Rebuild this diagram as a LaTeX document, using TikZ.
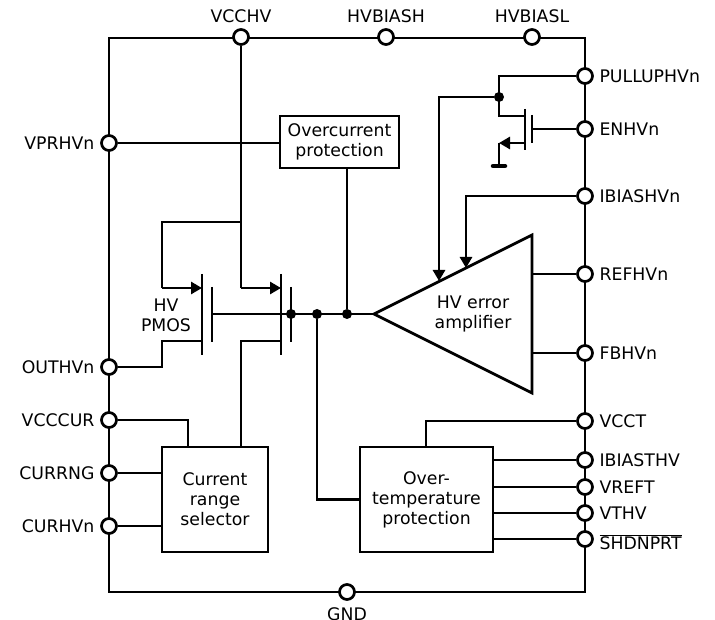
\documentclass[tikz,border=0pt]{standalone}
\usepackage{fontspec}
\setmainfont{DejaVu Sans}
\usetikzlibrary{arrows.meta}
\tikzset{
  wire/.style={line width=2.7pt},
  tipwire/.style={wire, -{Triangle[length=11pt,width=12pt]}},
  pin/.style={draw, circle, fill=white, line width=2.7pt, minimum size=15pt, inner sep=0pt},
  pinlabel/.style={font=\fontsize{17.3}{20}\selectfont, inner sep=0pt, text height=12.6pt, text depth=0pt, label distance=5.5pt},
  block/.style={draw, fill=white, line width=2.7pt, align=center, inner sep=0pt, font=\fontsize{17.3}{20}\selectfont},
  plain/.style={align=center, inner sep=0pt, font=\fontsize{17.3}{20}\selectfont},
  junction/.style={circle, fill=black, minimum size=10pt, inner sep=0pt}
}
\begin{document}
\begin{tikzpicture}[x=1pt,y=-1pt]
  \useasboundingbox (0,0) rectangle (715,620);
  \draw[wire] (109,38) rectangle (585,592);
  % pins
  \foreach \pinname/\xpos in {VCCHV/241,HVBIASH/386,HVBIASL/532}
    \node[pin, label={[pinlabel]above:\pinname}] (\pinname) at (\xpos,37) {};
  \foreach \pinname/\ypos in {VPRHVn/143,OUTHVn/367,VCCCUR/420,CURRNG/473,CURHVn/526}
    \node[pin, label={[pinlabel]left:\pinname}] (\pinname) at (109,\ypos) {};
  \foreach \pinname/\ypos in {PULLUPHVn/76,ENHVn/129,IBIASHVn/196,REFHVn/274,FBHVn/353,VCCT/421,IBIASTHV/460,VREFT/487,VTHV/513}
    \node[pin, label={[pinlabel]right:\pinname}] (\pinname) at (585,\ypos) {};
  \node[pin, label={[pinlabel, yshift=-4pt]right:$\overline{\mbox{SHDNPRT}}$}] (SHDNPRT) at (585,539) {};
  \node[pin, label={[pinlabel, yshift=-1pt]below:GND}] (GND) at (347,592) {};
  % blocks
  \node[block, minimum width=119pt, minimum height=52pt] (overcurrent) at (339.5,142) {Overcurrent\\protection};
  \node[block, minimum width=106pt, minimum height=105pt] (currange) at (215,499.5) {Current\\range\\selector};
  \node[block, minimum width=133pt, minimum height=105pt] (overtemp) at (426.5,499.5) {Over-\\temperature\\protection};
  \coordinate (amptip) at (374,314);
  \coordinate (amptop) at (532,235);
  \coordinate (ampbot) at (532,393);
  \draw[wire, line join=miter] (amptip) -- (amptop) -- (ampbot) -- cycle;
  \node[plain] (amplabel) at (473,314) {HV error\\amplifier};
  \node[plain] (pmoslabel) at (166,315) {HV\\PMOS};
  % pmos pair
  \coordinate (vcctap) at (241,222);
  \coordinate (srca) at (202,288);
  \coordinate (srcb) at (281,288);
  \coordinate (draina) at (202,341);
  \coordinate (drainb) at (281,341);
  \coordinate (gatea) at (212,314);
  \draw[wire] (202,274) -- (202,355);
  \draw[wire] (212,287) -- (212,342);
  \draw[wire] (281,274) -- (281,355);
  \draw[wire] (291,287) -- (291,342);
  \draw[wire] (VCCHV) -- (241,288);
  \draw[tipwire] (241,288) -- (srcb);
  \draw[wire] (vcctap) -| (162,288);
  \draw[tipwire] (162,288) -- (srca);
  \draw[wire] (draina) -- (162,341) |- (OUTHVn);
  \draw[wire] (drainb) -- (241,341) -- (241,447);
  \draw[wire] (gatea) -- (amptip);
  \draw[wire] (VPRHVn) -- (overcurrent.west |- VPRHVn);
  \node[junction] (gatedot) at (291,314) {};
  \node[junction] (tempdot) at (317,314) {};
  \node[junction] (ocpdot) at (347,314) {};
  \draw[wire] (347,168) -- (ocpdot);
  \draw[wire] (tempdot) |- (overtemp.west);
  % current selector
  \draw[wire] (VCCCUR) -| (188,447);
  \draw[wire] (CURRNG) -- (162,473);
  \draw[wire] (CURHVn) -- (162,526);
  % temperature block
  \draw[wire] (VCCT) -| (426,447);
  \foreach \pinname/\ypos in {IBIASTHV/460,VREFT/487,VTHV/513,SHDNPRT/539}
    \draw[wire] (493,\ypos) -- (\pinname);
  % amplifier inputs
  \draw[wire] (532,274) -- (REFHVn);
  \draw[wire] (532,353) -- (FBHVn);
  \draw[tipwire] (IBIASHVn) -| (466,268);
  \node[junction] (pulldot) at (499,97) {};
  \draw[tipwire] (pulldot) -| (439,281);
  % small nmos
  \draw[wire] (PULLUPHVn) -| (499,116) -- (525,116);
  \draw[wire] (525,109) -- (525,150);
  \draw[wire] (532,115) -- (532,143);
  \draw[wire] (532,129) -- (ENHVn);
  \draw[tipwire] (525,143) -- (499,143);
  \draw[wire] (499,143) -- (499,166);
  \draw[line width=4.5pt, line cap=round] (493,166) -- (505,166);
\end{tikzpicture}
\end{document}
